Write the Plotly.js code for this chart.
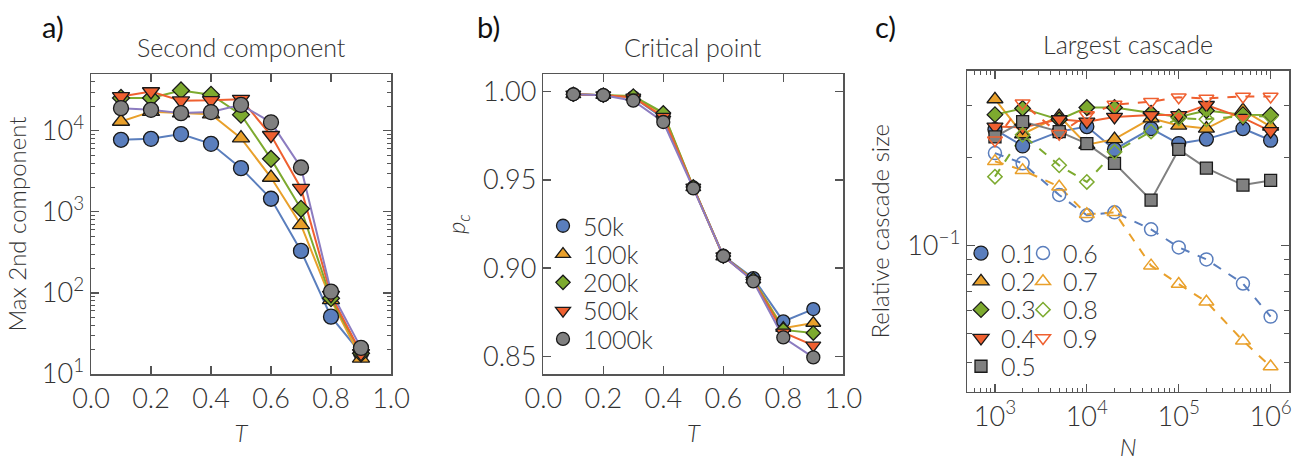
<!DOCTYPE html>
<html>
<head>
<meta charset="utf-8">
<script src="https://cdn.plot.ly/plotly-3.0.1.min.js"></script>
<style>
html,body{margin:0;padding:0;background:#fff;}
#chart{width:1303px;height:461px;}
</style>
</head>
<body>
<div id="chart"></div>
<script>
// ---------- data ----------
const T = [0.1, 0.2, 0.3, 0.4, 0.5, 0.6, 0.7, 0.8, 0.9];
const sizeNames = ['50k', '100k', '200k', '500k', '1000k'];

// panel a: max 2nd component
const a50k   = [7740, 7950, 9100, 6900, 3460, 1450, 330, 51, 18];
const a100k  = [13000, 17200, 16500, 16000, 8100, 2650, 690, 82, 15.6];
const a200k  = [25400, 25400, 31400, 27800, 15800, 4500, 1090, 86, 18];
const a500k  = [26500, 30500, 23500, 23700, 24500, 8800, 1960, 94, 18];
const a1000k = [19000, 18100, 16500, 17000, 20900, 12700, 3520, 104, 21];

// panel b: critical point p_c
const b50k   = [0.9985, 0.998, 0.9968, 0.9850, 0.9457, 0.9070, 0.8943, 0.8698, 0.8768];
const b100k  = [0.9985, 0.998, 0.9970, 0.9875, 0.9457, 0.9065, 0.8935, 0.8660, 0.8689];
const b200k  = [0.9985, 0.998, 0.9975, 0.9880, 0.9460, 0.9068, 0.8935, 0.8650, 0.8632];
const b500k  = [0.9985, 0.998, 0.9968, 0.9858, 0.9457, 0.9068, 0.8930, 0.8636, 0.8562];
const b1000k = [0.9985, 0.998, 0.9949, 0.9828, 0.9452, 0.9068, 0.8925, 0.8607, 0.8494];

// panel c: largest cascade vs N, one series per T
const N = [1e3, 2e3, 5e3, 1e4, 2e4, 5e4, 1e5, 2e5, 5e5, 1e6];
const cNames = ['0.1', '0.2', '0.3', '0.4', '0.5', '0.6', '0.7', '0.8', '0.9'];
const c01 = [0.249, 0.219, 0.245, 0.255, 0.213, 0.251, 0.223, 0.231, 0.251, 0.229];
const c02 = [0.316, 0.240, 0.277, 0.221, 0.231, 0.272, 0.257, 0.251, 0.290, 0.255];
const c03 = [0.280, 0.294, 0.269, 0.296, 0.296, 0.283, 0.275, 0.289, 0.280, 0.279];
const c04 = [0.255, 0.253, 0.270, 0.265, 0.275, 0.279, 0.279, 0.302, 0.273, 0.246];
const c05 = [0.235, 0.265, 0.245, 0.223, 0.191, 0.143, 0.213, 0.184, 0.161, 0.167];
const c06 = [0.207, 0.191, 0.149, 0.127, 0.130, 0.1137, 0.0987, 0.0898, 0.0743, 0.0573];
const c07 = [0.194, 0.181, 0.159, 0.128, 0.130, 0.0855, 0.0740, 0.0644, 0.0474, 0.0387];
const c08 = [0.172, 0.239, 0.188, 0.165, 0.209, 0.245, 0.272, 0.270, 0.277, 0.276];
const c09 = [0.229, 0.306, 0.241, 0.279, 0.303, 0.310, 0.321, 0.318, 0.323, 0.323];

// tick labels
const abXTickVals = [0, 0.2, 0.4, 0.6, 0.8, 1.0];
const aYTickVals = [10, 100, 1000, 10000];
const aYTickText = ['10<sup>1</sup>', '10<sup>2</sup>', '10<sup>3</sup>', '10<sup>4</sup>'];
const bYTickVals = [0.85, 0.90, 0.95, 1.00];
const cXTickVals = [1e3, 1e4, 1e5, 1e6];
const cXTickText = ['10<sup>3</sup>', '10<sup>4</sup>', '10<sup>5</sup>', '10<sup>6</sup>'];
const cYTickVals = [0.1];
const cYTickText = ['10<sup>\u22121</sup>'];

// ---------- styles ----------
const BLUE = '#5A7EBD', ORANGE = '#E9A02B', GREEN = '#7DAA2F', RED = '#EF6030', GRAY = '#808080', PURPLE = '#8C7CC0';
const FONT = 'Lato, "Open Sans", sans-serif';
const TXT = '#333333';
const EDGE = '#1a1a1a';
const H = 461, W = 1303;

const traces = [];
const legends = {};
let legendCount = 0;
const legendFont = {family: FONT, size: 25, color: TXT, weight: 300};
function newLegend(xpx, ycpx) {
  legendCount += 1;
  const id = legendCount === 1 ? 'legend' : 'legend' + legendCount;
  legends[id] = {x: xpx / W, y: (H - ycpx) / H, xanchor: 'left', yanchor: 'middle',
    bgcolor: 'rgba(0,0,0,0)', borderwidth: 0, font: legendFont, itemwidth: 30, tracegroupgap: 0};
  return id;
}

// panel a & b
const sizeStyles = [
  {sym: 'circle', fill: BLUE, line: BLUE, ms: 15},
  {sym: 'triangle-up', fill: ORANGE, line: ORANGE, ms: 15},
  {sym: 'diamond', fill: GREEN, line: GREEN, ms: 13},
  {sym: 'triangle-down', fill: RED, line: RED, ms: 15},
  {sym: 'circle', fill: GRAY, line: PURPLE, ms: 15}
];
const aSeries = [a50k, a100k, a200k, a500k, a1000k];
const bSeries = [b50k, b100k, b200k, b500k, b1000k];

aSeries.forEach((s, i) => {
  traces.push({x: T, y: s, xaxis: 'x', yaxis: 'y', mode: 'lines', showlegend: false,
    line: {color: sizeStyles[i].line, width: 2}});
});
aSeries.forEach((s, i) => {
  const st = sizeStyles[i];
  traces.push({x: T, y: s, xaxis: 'x', yaxis: 'y', mode: 'markers', showlegend: false, name: sizeNames[i],
    marker: {symbol: st.sym, size: st.ms, color: st.fill, line: {color: EDGE, width: 1.3}}});
});
bSeries.forEach((s, i) => {
  traces.push({x: T, y: s, xaxis: 'x2', yaxis: 'y2', mode: 'lines', showlegend: false,
    line: {color: sizeStyles[i].line, width: 2}});
});
bSeries.forEach((s, i) => {
  const st = sizeStyles[i];
  const lg = newLegend(543, 226 + i * 28.3);
  traces.push({x: T, y: s, xaxis: 'x2', yaxis: 'y2', mode: 'markers', showlegend: true, legend: lg, name: sizeNames[i],
    marker: {symbol: st.sym, size: st.ms - 2, color: st.fill, line: {color: EDGE, width: 1.3}}});
});

// panel c
const cSeries = [c01, c02, c03, c04, c05, c06, c07, c08, c09];
const cStyles = [
  {sym: 'circle', col: BLUE, dash: 'solid', open: false, ms: 14},
  {sym: 'triangle-up', col: ORANGE, dash: 'solid', open: false, ms: 14},
  {sym: 'diamond', col: GREEN, dash: 'solid', open: false, ms: 12},
  {sym: 'triangle-down', col: RED, dash: 'solid', open: false, ms: 14},
  {sym: 'square', col: GRAY, dash: 'solid', open: false, ms: 12},
  {sym: 'circle-open', col: BLUE, dash: 'dash', open: true, ms: 13},
  {sym: 'triangle-up-open', col: ORANGE, dash: 'dash', open: true, ms: 13},
  {sym: 'diamond-open', col: GREEN, dash: 'dash', open: true, ms: 11},
  {sym: 'triangle-down-open', col: RED, dash: 'dash', open: true, ms: 13}
];
cSeries.forEach((s, i) => {
  const st = cStyles[i];
  traces.push({x: N, y: s, xaxis: 'x3', yaxis: 'y3', mode: 'lines', showlegend: false,
    line: {color: st.col, width: 2, dash: st.dash}});
});
cSeries.forEach((s, i) => {
  const st = cStyles[i];
  const col = i < 5 ? 0 : 1;
  const row = i < 5 ? i : i - 5;
  const lg = newLegend(col === 0 ? 961 : 1023, 253.3 + row * 28.3);
  traces.push({x: N, y: s, xaxis: 'x3', yaxis: 'y3', mode: 'markers', name: cNames[i],
    showlegend: true, legend: lg,
    marker: st.open
      ? {symbol: st.sym, size: st.ms, color: st.col, line: {color: st.col, width: 1.5}}
      : {symbol: st.sym, size: st.ms, color: st.col, line: {color: EDGE, width: 1.3}}});
});

// ---------- layout ----------
const axisCommon = {
  showline: true, mirror: 'allticks', linecolor: '#555555', linewidth: 1.5,
  ticks: 'inside', ticklen: 8, tickwidth: 1.3, tickcolor: '#555555',
  showgrid: false, zeroline: false,
  tickfont: {family: FONT, size: 27, color: TXT, weight: 300}
};
function ax(extra) { return Object.assign({}, axisCommon, extra); }
const titleFont = {family: FONT, size: 24, color: TXT, weight: 300};
const minorTicks = {ticks: 'inside', ticklen: 4, tickwidth: 1, tickcolor: '#555555', dtick: 'D1', showgrid: false};

const yA = [(H - 374) / H, (H - 74) / H];
const yC = [(H - 391.7) / H, (H - 70.7) / H];

function label(text, xpx, ypx, font) {
  return {text: text, x: xpx / W, y: (H - ypx) / H, xref: 'paper', yref: 'paper', showarrow: false,
    xanchor: 'center', yanchor: 'middle', font: font};
}
const panelFont = {family: FONT, size: 29, color: '#111111', weight: 400};
const subTitleFont = {family: FONT, size: 25, color: TXT, weight: 300};

const layout = Object.assign({
  width: W, height: H,
  margin: {l: 0, r: 0, t: 0, b: 0},
  paper_bgcolor: '#ffffff', plot_bgcolor: '#ffffff',
  font: {family: FONT, color: TXT},
  showlegend: true,
  xaxis: ax({domain: [91 / W, 391 / W], anchor: 'y', range: [0, 1], tickvals: abXTickVals,
    tickformat: '.1f', title: {text: '<i>T</i>', font: titleFont, standoff: 12}}),
  yaxis: ax({domain: yA, anchor: 'x', type: 'log', range: [1, 4.70], tickvals: aYTickVals, ticktext: aYTickText,
    minor: minorTicks, title: {text: 'Max 2nd component', font: titleFont, standoff: 8}}),
  xaxis2: ax({domain: [543.3 / W, 843.3 / W], anchor: 'y2', range: [0, 1], tickvals: abXTickVals,
    tickformat: '.1f', title: {text: '<i>T</i>', font: titleFont, standoff: 12}}),
  yaxis2: ax({domain: yA, anchor: 'x2', range: [0.84, 1.01], tickvals: bYTickVals, tickformat: '.2f',
    title: {text: '<i>p</i><sub><i>c</i></sub>', font: titleFont, standoff: 10}}),
  xaxis3: ax({domain: [967.3 / W, 1289 / W], anchor: 'y3', type: 'log', range: [2.699, 6.2],
    tickvals: cXTickVals, ticktext: cXTickText, minor: minorTicks,
    title: {text: '<i>N</i>', font: titleFont, standoff: 12}}),
  yaxis3: ax({domain: yC, anchor: 'x3', type: 'log', range: [-1.498, -0.403],
    tickvals: cYTickVals, ticktext: cYTickText, minor: Object.assign({}, minorTicks, {ticklen: 5}),
    title: {text: 'Relative cascade size', font: titleFont, standoff: 10}}),
  annotations: [
    label('a)', 53, 27, panelFont),
    label('b)', 488, 27, panelFont),
    label('c)', 885, 27, panelFont),
    label('Second component', 241, 47, subTitleFont),
    label('Critical point', 693, 47, subTitleFont),
    label('Largest cascade', 1128, 44, subTitleFont)
  ]
}, legends);

Plotly.newPlot('chart', traces, layout, {displayModeBar: false, staticPlot: true});
</script>
</body>
</html>
